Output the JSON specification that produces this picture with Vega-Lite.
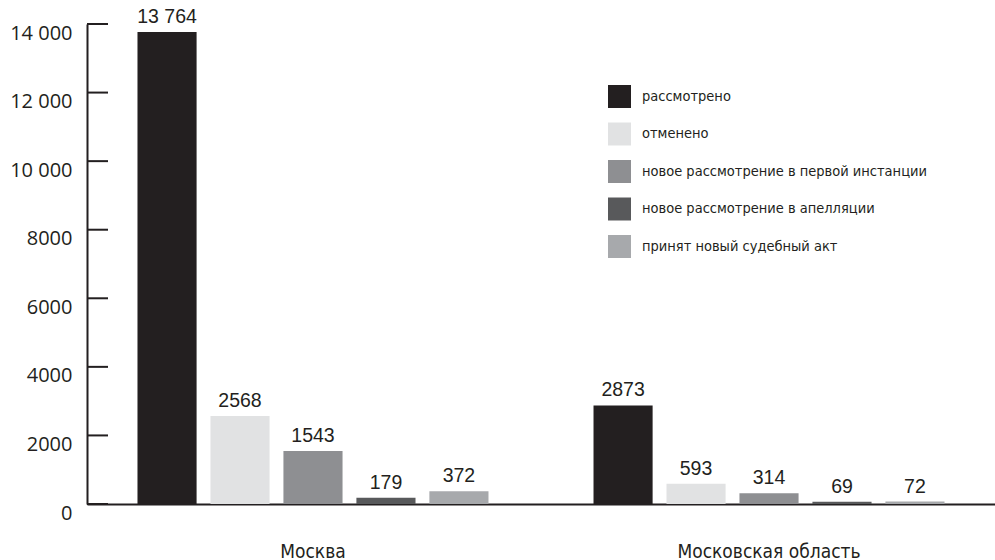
{
  "$schema": "https://vega.github.io/schema/vega-lite/v6.json",
  "width": 908,
  "height": 480,
  "autosize": {"type": "none"},
  "padding": {"left": 87, "top": 24, "right": 0, "bottom": 56},
  "background": "white",
  "config": {"view": {"stroke": null}},
  "datasets": {
    "bars": [
      {"region": "Москва", "category": "рассмотрено", "value": 13764},
      {"region": "Москва", "category": "отменено", "value": 2568},
      {"region": "Москва", "category": "новое рассмотрение в первой инстанции", "value": 1543},
      {"region": "Москва", "category": "новое рассмотрение в апелляции", "value": 179},
      {"region": "Москва", "category": "принят новый судебный акт", "value": 372},
      {"region": "Московская область", "category": "рассмотрено", "value": 2873},
      {"region": "Московская область", "category": "отменено", "value": 593},
      {"region": "Московская область", "category": "новое рассмотрение в первой инстанции", "value": 314},
      {"region": "Московская область", "category": "новое рассмотрение в апелляции", "value": 69},
      {"region": "Московская область", "category": "принят новый судебный акт", "value": 72}
    ],
    "ticks": [
      {"value": 0}, {"value": 2000}, {"value": 4000}, {"value": 6000},
      {"value": 8000}, {"value": 10000}, {"value": 12000}, {"value": 14000}
    ]
  },
  "resolve": {"scale": {"x": "independent"}},
  "layer": [
    {
      "data": {"name": "ticks"},
      "mark": {"type": "rule", "color": "#231f20", "strokeWidth": 2},
      "encoding": {
        "x": {"datum": 0, "type": "quantitative", "scale": {"domain": [0, 43.238], "nice": false, "zero": false}, "axis": null},
        "x2": {"datum": 1},
        "y": {
          "field": "value", "type": "quantitative",
          "scale": {"domain": [0, 14000], "nice": false},
          "axis": {
            "orient": "left",
            "title": null, "grid": false, "ticks": false,
            "values": [0, 2000, 4000, 6000, 8000, 10000, 12000, 14000],
            "labelExpr": "datum.value >= 10000 ? replace(format(datum.value, ','), ',', ' ') : format(datum.value, 'd')",
            "domainColor": "#231f20", "domainWidth": 2,
            "labelPadding": 15, "labelOffset": 9,
            "labelFont": "Open Sans", "labelFontSize": 20, "labelColor": "#231f20"
          }
        }
      }
    },
    {
      "data": {"name": "bars"},
      "layer": [
        {
          "mark": {"type": "bar"},
          "encoding": {
            "color": {
              "field": "category", "type": "nominal", "sort": null,
              "scale": {
                "domain": ["рассмотрено", "отменено", "новое рассмотрение в первой инстанции", "новое рассмотрение в апелляции", "принят новый судебный акт"],
                "range": ["#231f20", "#e1e2e3", "#8e8f92", "#58595b", "#a7a9ac"]
              },
              "legend": {
                "title": null, "orient": "none", "legendX": 521, "legendY": 61,
                "symbolType": "square", "symbolSize": 529, "symbolStrokeWidth": 0,
                "rowPadding": 14.5, "labelOffset": 11, "padding": 0,
                "labelFont": "DejaVu Sans Condensed", "labelFontSize": 14.5, "labelColor": "#231f20",
                "labelLimit": 400
              }
            }
          }
        },
        {
          "transform": [
            {"calculate": "datum.value >= 10000 ? replace(format(datum.value, ','), ',', ' ') : format(datum.value, 'd')", "as": "label"}
          ],
          "mark": {"type": "text", "baseline": "bottom", "dy": -5, "font": "Liberation Sans", "fontSize": 19.5, "color": "#231f20"},
          "encoding": {"text": {"field": "label", "type": "nominal"}}
        }
      ],
      "encoding": {
        "x": {
          "field": "region", "type": "nominal", "sort": null,
          "scale": {"paddingInner": 0.2303, "paddingOuter": 0.1107, "align": 0.5},
          "axis": {
            "title": null, "ticks": false, "labelAngle": 0,
            "domainColor": "#231f20", "domainWidth": 2,
            "labelFont": "DejaVu Sans Condensed", "labelFontSize": 19, "labelColor": "#231f20",
            "labelPadding": 38, "labelBaseline": "top", "labelLimit": 400
          }
        },
        "xOffset": {
          "field": "category", "type": "nominal", "sort": null,
          "scale": {"paddingInner": 0.19, "paddingOuter": 0}
        },
        "y": {
          "field": "value", "type": "quantitative",
          "scale": {"domain": [0, 14000], "nice": false},
          "axis": {
            "orient": "left",
            "title": null, "grid": false, "ticks": false,
            "values": [0, 2000, 4000, 6000, 8000, 10000, 12000, 14000],
            "labelExpr": "datum.value >= 10000 ? replace(format(datum.value, ','), ',', ' ') : format(datum.value, 'd')",
            "domainColor": "#231f20", "domainWidth": 2,
            "labelPadding": 15, "labelOffset": 9,
            "labelFont": "Open Sans", "labelFontSize": 20, "labelColor": "#231f20"
          }
        }
      }
    }
  ]
}
